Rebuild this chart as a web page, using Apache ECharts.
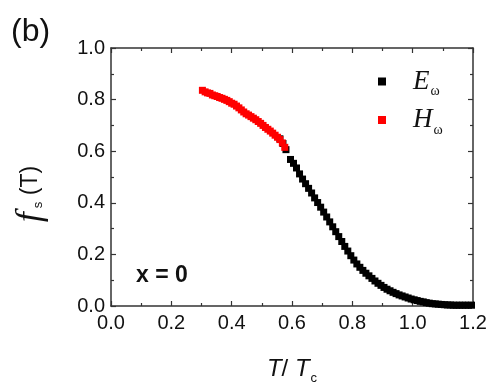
<!DOCTYPE html>
<html>
<head>
<meta charset="utf-8">
<script src="https://cdn.jsdelivr.net/npm/echarts@6/dist/echarts.min.js"></script>
<style>
  html, body { margin: 0; padding: 0; background: #fff; }
  #chart { width: 492px; height: 390px; }
</style>
</head>
<body>
<div id="chart"></div>
<script>
// T / Tc, f_s for the E_omega measurement (black)
var eData = [
  [0.560, 0.648], [0.570, 0.630], [0.580, 0.606], [0.595, 0.568], [0.605, 0.553],
  [0.615, 0.535], [0.625, 0.512], [0.635, 0.492], [0.645, 0.474], [0.655, 0.456],
  [0.665, 0.438], [0.675, 0.419], [0.685, 0.401], [0.695, 0.383], [0.705, 0.364],
  [0.715, 0.345], [0.725, 0.326], [0.735, 0.307], [0.745, 0.288], [0.755, 0.269],
  [0.765, 0.250], [0.775, 0.231], [0.785, 0.213], [0.795, 0.195], [0.805, 0.178],
  [0.815, 0.163], [0.825, 0.150], [0.835, 0.138], [0.845, 0.127], [0.855, 0.117],
  [0.865, 0.107], [0.875, 0.097], [0.885, 0.088], [0.895, 0.080], [0.905, 0.072],
  [0.915, 0.065], [0.925, 0.059], [0.935, 0.053], [0.945, 0.048], [0.955, 0.043],
  [0.965, 0.039], [0.975, 0.035], [0.985, 0.031], [0.995, 0.027], [1.005, 0.024],
  [1.015, 0.021], [1.025, 0.018], [1.035, 0.016], [1.045, 0.013], [1.055, 0.011],
  [1.065, 0.009], [1.075, 0.008], [1.085, 0.007], [1.095, 0.006], [1.105, 0.005],
  [1.115, 0.004], [1.125, 0.004], [1.135, 0.003], [1.145, 0.003], [1.155, 0.003],
  [1.165, 0.003], [1.175, 0.003], [1.185, 0.003], [1.195, 0.003]
];
// H_omega measurement (red)
var hData = [
  [0.303, 0.836], [0.312, 0.830], [0.320, 0.826], [0.328, 0.824], [0.336, 0.818],
  [0.344, 0.815], [0.352, 0.812], [0.360, 0.808], [0.368, 0.805], [0.376, 0.801],
  [0.384, 0.797], [0.392, 0.792], [0.400, 0.786], [0.408, 0.782], [0.416, 0.775],
  [0.424, 0.768], [0.432, 0.760], [0.440, 0.752], [0.448, 0.745], [0.456, 0.740],
  [0.464, 0.734], [0.472, 0.728], [0.480, 0.722], [0.488, 0.715], [0.496, 0.708],
  [0.504, 0.700], [0.512, 0.692], [0.520, 0.685], [0.528, 0.678], [0.536, 0.670],
  [0.544, 0.662], [0.552, 0.654], [0.560, 0.645], [0.568, 0.632], [0.576, 0.615]
];
var xTicks = [0, 1.2, 0.2];
var yTicks = [0, 1.0, 0.2];

var chart = echarts.init(document.getElementById('chart'));

var sans = 'Liberation Sans, Arial, sans-serif';
var serif = 'Liberation Serif, Times New Roman, serif';
var axisCol = '#333';

function baseAxis(pos, show, range) {
  return {
    type: 'value',
    position: pos,
    min: range[0], max: range[1], interval: range[2],
    axisLine: { show: true, onZero: false, lineStyle: { color: axisCol, width: 1.5 } },
    axisTick: { show: true, inside: true, length: 5, lineStyle: { color: axisCol, width: 1.2 } },
    minorTick: { show: true, splitNumber: 2, length: 3, lineStyle: { color: axisCol, width: 1.2 } },
    splitLine: { show: false },
    axisLabel: { show: show, color: '#111', fontFamily: sans, fontSize: 20 }
  };
}

var xMain = baseAxis('bottom', true, xTicks);
xMain.axisLabel.margin = 7;
xMain.axisLabel.formatter = function (v) { return v.toFixed(1); };
xMain.name = '{i|T}{n|/ }{i|T}{s|c}';
xMain.nameLocation = 'middle';
xMain.nameGap = 48;
xMain.nameTextStyle = {
  rich: {
    i: { fontFamily: sans, fontStyle: 'italic', fontSize: 24, color: '#111' },
    n: { fontFamily: sans, fontSize: 24, color: '#111' },
    s: { fontFamily: sans, fontSize: 13, color: '#111', padding: [18, 0, 0, 1] }
  }
};

var yMain = baseAxis('left', true, yTicks);
yMain.axisLabel.margin = 6;
yMain.axisLabel.formatter = function (v) { return v.toFixed(1); };

var grid = { left: 111, right: 19, top: 48, bottom: 77 };

var option = {
  backgroundColor: '#fff',
  animation: false,
  grid: grid,
  xAxis: [xMain, baseAxis('top', false, xTicks)],
  yAxis: [yMain, baseAxis('right', false, yTicks)],
  legend: {
    orient: 'vertical',
    left: 378,
    top: 68,
    padding: 0,
    itemWidth: 8,
    itemHeight: 8,
    itemGap: 8,
    icon: 'rect',
    formatter: function (name) {
      return name === 'E' ? '{i|E}{s|ω}' : '{i|H}{s|ω}';
    },
    textStyle: {
      padding: [0, 0, 0, 22],
      rich: {
        i: { fontFamily: serif, fontStyle: 'italic', fontSize: 27, color: '#111' },
        s: { fontFamily: serif, fontSize: 14, color: '#111', padding: [20, 0, 0, 1] }
      }
    }
  },
  graphic: [
    { type: 'text', left: 11, top: 16,
      style: { text: '(b)', font: '32px ' + sans, fill: '#111' } },
    { type: 'text', left: 136, top: 264,
      style: { text: 'x = 0', font: 'bold 23px ' + sans, fill: '#111' } },
    { type: 'text', x: 31, y: 194, rotation: Math.PI / 2,
      style: {
        text: '{i|f}{s|s}{n| (T)}',
        align: 'center', verticalAlign: 'middle',
        rich: {
          i: { fontFamily: serif, fontStyle: 'italic', fontSize: 36, fill: '#111' },
          n: { fontFamily: sans, fontSize: 23, fill: '#111' },
          s: { fontFamily: sans, fontSize: 13, fill: '#111', padding: [14, 0, 0, 4] }
        }
      } }
  ],
  series: [
    {
      name: 'E', type: 'scatter', data: eData,
      symbol: 'rect', symbolSize: 7,
      itemStyle: { color: '#000', opacity: 1 }, z: 2
    },
    {
      name: 'H', type: 'scatter', data: hData,
      symbol: 'rect', symbolSize: 7,
      itemStyle: { color: '#ff0000', opacity: 1 }, z: 3
    }
  ]
};

chart.setOption(option);
</script>
</body>
</html>
